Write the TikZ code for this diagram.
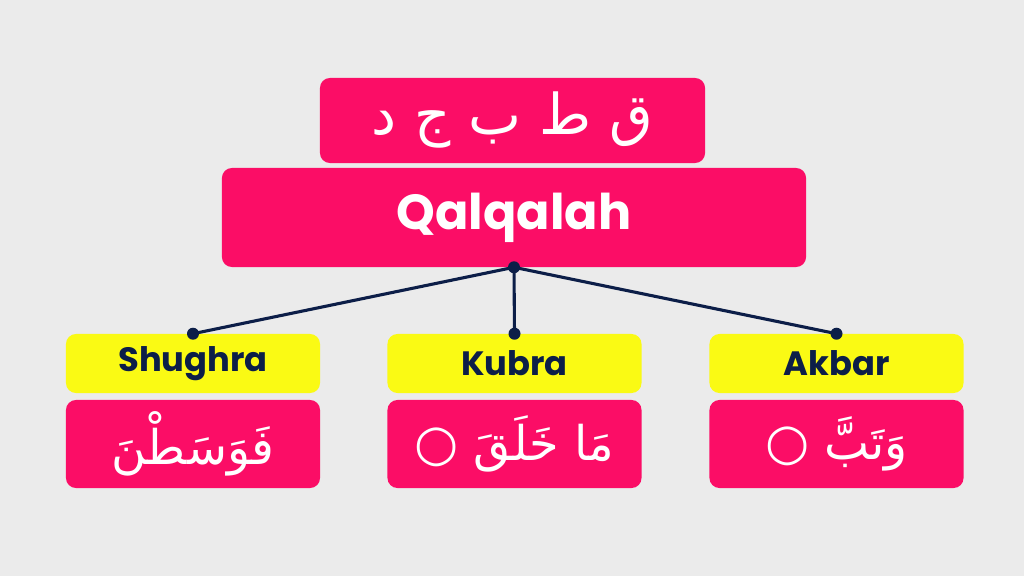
\documentclass[tikz,border=0pt]{standalone}
\usepackage{fontspec}
\setmainfont{Poppins}
\newfontfamily\arabicfont[Script=Arabic]{DejaVu Sans}
\newfontfamily\symbolfont{DejaVu Sans}
\TeXXeTstate=1
\usetikzlibrary{positioning}
\definecolor{bgGray}{HTML}{EBEBEB}
\definecolor{qPink}{HTML}{FB0D66}
\definecolor{qYellow}{HTML}{FAFA14}
\definecolor{qNavy}{HTML}{0C1E48}
\newcommand{\ayahend}{{\symbolfont\fontsize{36}{40}\selectfont ○}}
\tikzset{
  pinkbox/.style={draw=none, rounded corners=0.25cm, fill=qPink, text=white},
  typebox/.style={draw=none, rounded corners=0.25cm, fill=qYellow, text=qNavy, minimum width=6.35cm, minimum height=1.475cm, font=\fontsize{24}{28}\selectfont\bfseries},
  examplebox/.style={pinkbox, minimum width=6.35cm, minimum height=2.2cm, font=\fontsize{34}{38}\selectfont\arabicfont},
  link/.style={qNavy, line width=2.2pt},
  joint/.style={fill=qNavy, draw=none, circle, inner sep=0pt, minimum size=0.3cm}
}
\begin{document}
\begin{tikzpicture}[x=0.025cm, y=-0.025cm]
    \fill[bgGray] (0,0) rectangle (1024,576);
    \useasboundingbox (0,0) rectangle (1024,576);

    \node[pinkbox, minimum width=9.625cm, minimum height=2.125cm, font=\fontsize{40}{44}\selectfont\arabicfont] (letters) at (512.5,120.5) {\beginR ق ط ب ج د\endR};
    \node[pinkbox, minimum width=14.6cm, minimum height=2.475cm, font=\fontsize{35}{40}\selectfont\bfseries] (qalqalah) at (514,217.5) {Qalqalah};

    \node[typebox] (shughra) at (193,363.5) {Shughra};
    \node[typebox] (kubra) at (514.5,363.5) {Kubra};
    \node[typebox] (akbar) at (836.5,363.5) {Akbar};

    \node[examplebox] (exshughra) at (193,444) {\beginR فَوَسَطْنَ\endR};
    \node[examplebox] (exkubra) at (514.5,444) {\ayahend\ \beginR مَا خَلَقَ\endR};
    \node[examplebox] (exakbar) at (836.5,444) {\ayahend\ \beginR وَتَبَّ\endR};

    \draw[link] (qalqalah.south) -- (shughra.north);
    \draw[link] (qalqalah.south) -- (kubra.north);
    \draw[link] (qalqalah.south) -- (akbar.north);

    \node[joint] at (qalqalah.south) {};
    \node[joint] at (shughra.north) {};
    \node[joint] at (kubra.north) {};
    \node[joint] at (akbar.north) {};
\end{tikzpicture}
\end{document}
